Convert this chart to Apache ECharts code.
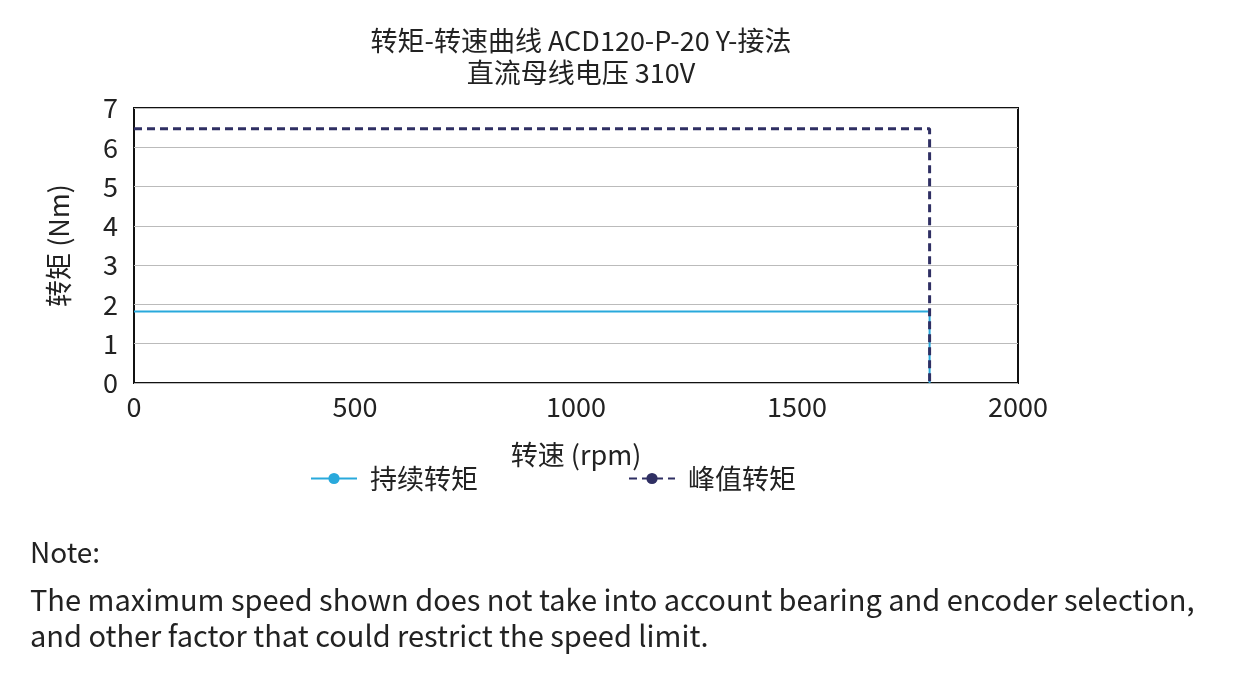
<!DOCTYPE html>
<html><head><meta charset="utf-8">
<script src="https://cdn.jsdelivr.net/npm/echarts@6/dist/echarts.min.js"></script>
<style>body{margin:0;background:#fff}#c{width:1247px;height:682px}</style>
</head><body><div id="c"></div>
<script>
const maxSpeed = 1800;
const contTorque = 1.82;
const peakTorque = 6.47;
const contData = [[0, contTorque], [maxSpeed, contTorque], [maxSpeed, 0]];
const peakData = [[0, peakTorque], [maxSpeed, peakTorque], [maxSpeed, 0]];

const font = '"Noto Sans CJK SC", "Noto Sans", sans-serif';
const chart = echarts.init(document.getElementById('c'));
chart.setOption({
  textStyle: { fontFamily: font },
  title: {
    text: '转矩-转速曲线 ACD120-P-20 Y-接法\n直流母线电压 310V',
    left: 576, top: 20, textAlign: 'center',
    textStyle: { fontSize: 27, fontWeight: 'normal', color: '#222', lineHeight: 32, fontFamily: font }
  },
  grid: { left: 134, right: 229, top: 108, bottom: 299, show: true, borderColor: '#111', borderWidth: 2 },
  xAxis: {
    type: 'value', min: 0, max: 2000, interval: 500,
    name: '转速 (rpm)', nameLocation: 'middle', nameGap: 58,
    nameTextStyle: { fontSize: 27, color: '#222', fontFamily: font },
    axisLine: { show: false }, axisTick: { show: false }, splitLine: { show: false },
    axisLabel: { fontSize: 27, color: '#222', margin: 10, fontFamily: font, formatter: v => String(v) }
  },
  yAxis: {
    type: 'value', min: 0, max: 7, interval: 1,
    name: '转矩 (Nm)', nameLocation: 'middle', nameGap: 62,
    nameTextStyle: { fontSize: 27, color: '#222', fontFamily: font },
    axisLine: { show: false }, axisTick: { show: false },
    splitLine: { lineStyle: { color: '#bbb', width: 1 } },
    axisLabel: { fontSize: 27, color: '#222', margin: 16, fontFamily: font }
  },
  legend: {
    top: 460, left: 305, itemGap: 150, itemWidth: 46, itemHeight: 14,
    textStyle: { fontSize: 27, color: '#222', fontFamily: font, padding: [0, 0, 0, 8] },
    data: [{ name: '持续转矩' }, { name: '峰值转矩' }]
  },
  series: [
    { name: '持续转矩', type: 'line', data: contData, showSymbol: false, symbol: 'none',
      lineStyle: { color: '#29a9dc', width: 2 }, itemStyle: { color: '#29a9dc' } },
    { name: '峰值转矩', type: 'line', data: peakData, showSymbol: false, symbol: 'none',
      lineStyle: { color: '#2f2f63', width: 3, type: [8, 5] }, itemStyle: { color: '#2f2f63' } }
  ],
  graphic: [
    { type: 'text', left: 30, top: 538, style: { text: 'Note:', fontSize: 28, fill: '#222', fontFamily: font } },
    { type: 'text', left: 30, top: 582, style: {
      text: 'The maximum speed shown does not take into account bearing and encoder selection,\nand other factor that could restrict the speed limit.',
      fontSize: 29, lineHeight: 36, fill: '#222', fontFamily: font } }
  ]
});
</script></body></html>
